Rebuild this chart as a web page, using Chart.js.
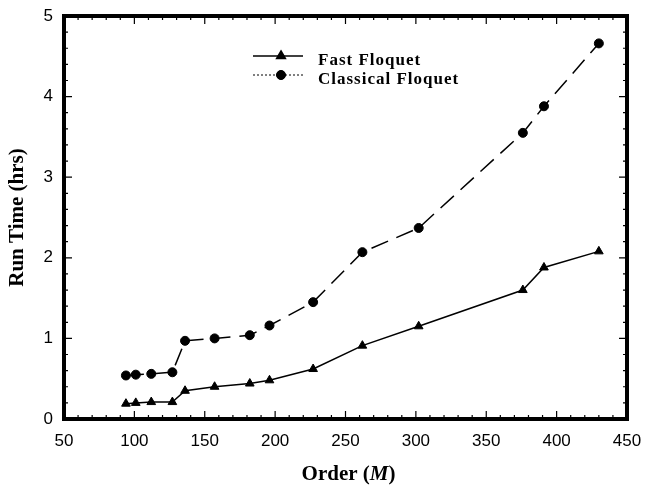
<!DOCTYPE html>
<html>
<head>
<meta charset="utf-8">
<script src="https://cdn.jsdelivr.net/npm/chart.js@4"></script>
<style>
  html, body { margin: 0; padding: 0; background: #fff; }
  #wrap { width: 645px; height: 487px; position: relative; }
</style>
</head>
<body>
<div id="wrap"><canvas id="runChart"></canvas></div>
<script>
    // values
    const orders = [94, 101, 112, 127, 136, 157, 182, 196, 227, 262, 302, 376, 391, 430];
    const fastHrs = [0.19, 0.20, 0.21, 0.21, 0.35, 0.40, 0.44, 0.48, 0.62, 0.91, 1.15, 1.60, 1.88, 2.08];
    const classicalHrs = [0.54, 0.55, 0.56, 0.58, 0.97, 1.00, 1.04, 1.16, 1.45, 2.07, 2.37, 3.55, 3.88, 4.66];
    const seriesNames = ['Fast Floquet', 'Classical Floquet'];
    const xTicks = [50, 100, 150, 200, 250, 300, 350, 400, 450];
    const yTicks = [0, 1, 2, 3, 4, 5];

    const toPoints = (xs, ys) => xs.map((x, i) => ({ x: x, y: ys[i] }));

    // frame, inward ticks on all four sides, legend and x title
    const framePlugin = {
        id: 'framePlugin',
        afterDraw(chart) {
            const ctx = chart.ctx;
            const area = chart.chartArea;
            const xs = chart.scales.x;
            const ys = chart.scales.y;
            ctx.save();
            ctx.strokeStyle = '#000';

            // minor/major ticks
            ctx.lineWidth = 1.2;
            for (let v = 50; v <= 450; v += 10) {
                const px = xs.getPixelForValue(v);
                const len = (v % 50 === 0) ? 8 : 4;
                ctx.beginPath();
                ctx.moveTo(px, area.bottom); ctx.lineTo(px, area.bottom - len);
                ctx.moveTo(px, area.top); ctx.lineTo(px, area.top + len);
                ctx.stroke();
            }
            for (let k = 0; k <= 25; k++) {
                const v = k * 0.2;
                const py = ys.getPixelForValue(v);
                const len = (k % 5 === 0) ? 8 : 4;
                ctx.beginPath();
                ctx.moveTo(area.left, py); ctx.lineTo(area.left + len, py);
                ctx.moveTo(area.right, py); ctx.lineTo(area.right - len, py);
                ctx.stroke();
            }

            // thick frame
            ctx.lineWidth = 4;
            ctx.strokeRect(area.left, area.top, area.right - area.left, area.bottom - area.top);

            // legend
            const lx0 = 253, lx1 = 303, tx = 318;
            const rows = [
                { y: 56, style: 'triangle', r: 5, dash: [], lw: 1.6 },
                { y: 75, style: 'circle', r: 4.5, dash: [2, 2], lw: 1 }
            ];
            ctx.font = 'bold 17px "Liberation Serif", "Times New Roman", serif';
            ctx.letterSpacing = '1px';
            ctx.textBaseline = 'middle';
            ctx.fillStyle = '#000';
            rows.forEach((row, i) => {
                ctx.lineWidth = row.lw;
                ctx.setLineDash(row.dash);
                ctx.beginPath();
                ctx.moveTo(lx0, row.y); ctx.lineTo(lx1, row.y);
                ctx.stroke();
                ctx.setLineDash([]);
                Chart.helpers.drawPoint(ctx, { pointStyle: row.style, radius: row.r, borderWidth: 1 }, (lx0 + lx1) / 2 + 3, row.y);
                ctx.fill();
                ctx.fillText(seriesNames[i], tx, row.y + 5);
            });

            // x title with italic M
            ctx.letterSpacing = '0px';
            const bold = 'bold 21px "Liberation Serif", "Times New Roman", serif';
            const boldIt = 'italic bold 21px "Liberation Serif", "Times New Roman", serif';
            const parts = [['Order (', bold], ['M', boldIt], [')', bold]];
            let total = 0;
            parts.forEach(p => { ctx.font = p[1]; total += ctx.measureText(p[0]).width; });
            let cx = (area.left + area.right) / 2 + 3 - total / 2;
            ctx.textAlign = 'left';
            ctx.textBaseline = 'middle';
            parts.forEach(p => {
                ctx.font = p[1];
                ctx.fillText(p[0], cx, 475);
                cx += ctx.measureText(p[0]).width;
            });
            ctx.restore();
        }
    };

    const ctx = document.getElementById('runChart').getContext('2d');
    const runChart = new Chart(ctx, {
        type: 'scatter',
        data: {
            datasets: [{
                label: seriesNames[0],
                data: toPoints(orders, fastHrs),
                showLine: true,
                borderColor: '#000',
                backgroundColor: '#000',
                borderWidth: 1.5,
                pointStyle: 'triangle',
                pointRadius: 5,
                pointBorderWidth: 1
            }, {
                label: seriesNames[1],
                data: toPoints(orders, classicalHrs),
                showLine: true,
                borderColor: '#000',
                backgroundColor: '#000',
                borderWidth: 1.5,
                borderDash: [18, 9],
                pointStyle: 'circle',
                pointRadius: 4.5,
                pointBorderWidth: 1
            }]
        },
        options: {
            responsive: true,
            maintainAspectRatio: false,
            animation: false,
            clip: false,
            layout: { padding: { top: 16, right: 18, left: 0, bottom: 0 } },
            plugins: {
                legend: { display: false },
                tooltip: { enabled: false }
            },
            scales: {
                x: {
                    type: 'linear',
                    min: 50,
                    max: 450,
                    afterBuildTicks: (scale) => { scale.ticks = xTicks.map(v => ({ value: v })); },
                    afterFit: (scale) => {
                        scale.height = 68;
                        scale.paddingLeft = 0;
                        scale.paddingRight = 0;
                    },
                    grid: { display: false, drawTicks: false },
                    border: { display: false },
                    ticks: {
                        padding: 12,
                        color: '#000',
                        font: { family: '"Liberation Sans", Arial, sans-serif', size: 17 }
                    }
                },
                y: {
                    type: 'linear',
                    min: 0,
                    max: 5,
                    afterBuildTicks: (scale) => { scale.ticks = yTicks.map(v => ({ value: v })); },
                    afterFit: (scale) => {
                        scale.width = 64;
                        scale.paddingTop = 0;
                        scale.paddingBottom = 0;
                    },
                    grid: { display: false, drawTicks: false },
                    border: { display: false },
                    title: {
                        display: true,
                        text: 'Run Time (hrs)',
                        color: '#000',
                        padding: { top: 5, bottom: 0 },
                        font: { family: '"Liberation Serif", "Times New Roman", serif', size: 21, weight: 'bold' }
                    },
                    ticks: {
                        padding: 11,
                        color: '#000',
                        font: { family: '"Liberation Sans", Arial, sans-serif', size: 17 }
                    }
                }
            }
        },
        plugins: [framePlugin]
    });
</script>
</body>
</html>
